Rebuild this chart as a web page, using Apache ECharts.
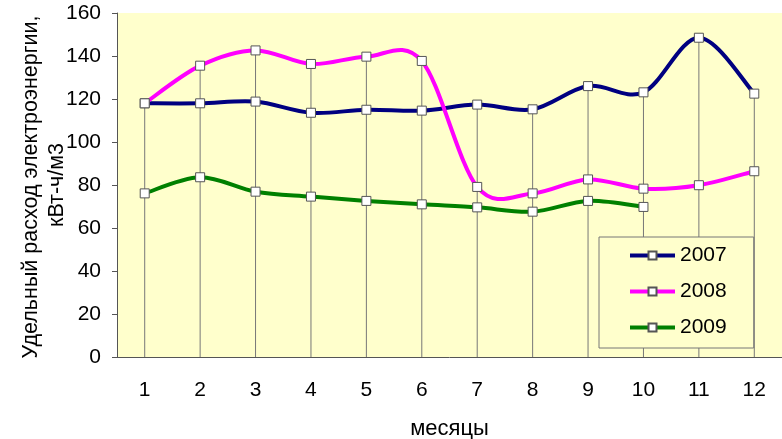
<!DOCTYPE html>
<html>
<head>
<meta charset="utf-8">
<script src="https://cdn.jsdelivr.net/npm/echarts@6/dist/echarts.min.js"></script>
<style>
  html, body { margin: 0; padding: 0; background: #fff; }
  #chart { width: 782px; height: 439px; }
</style>
</head>
<body>
<div id="chart"></div>
<script>
  // месяцы
  var months = ['1', '2', '3', '4', '5', '6', '7', '8', '9', '10', '11', '12'];
  var years = ['2007', '2008', '2009'];
  var colors = ['#000080', '#FF00FF', '#008000'];
  // удельный расход, кВт-ч/м3
  var data2007 = [118, 118, 118.8, 113.6, 115, 114.6, 117.4, 115.2, 126, 123.1, 148.5, 122.5];
  var data2008 = [118, 135.5, 142.6, 136.3, 139.7, 137.7, 79.1, 76.1, 82.6, 78.3, 79.9, 86.4];
  var data2009 = [76.1, 83.6, 76.9, 74.6, 72.6, 71, 69.6, 67.6, 72.6, 69.8, null, null];
  var yTicks = { min: 0, max: 160, interval: 20 };

  // вертикальные линии от верхней точки до оси
  var dropLines = [];
  for (var i = 0; i < months.length; i++) {
    var vals = [data2007[i], data2008[i], data2009[i]].filter(function (v) { return v != null; });
    dropLines.push(Math.max.apply(null, vals));
  }

  var font = '"Liberation Sans", Arial, sans-serif';
  var chart = echarts.init(document.getElementById('chart'));

  // сглаженная линия как в Excel (Catmull-Rom через точки осей)
  function curveRenderer(values, color) {
    return function (params, api) {
      if (params.dataIndex !== 0) return;
      var pts = [];
      for (var k = 0; k < values.length; k++) {
        if (values[k] == null) break;
        pts.push(api.coord([k, values[k]]));
      }
      var children = [];
      for (var j = 0; j < pts.length - 1; j++) {
        var p0 = pts[j - 1] || pts[j];
        var p1 = pts[j];
        var p2 = pts[j + 1];
        var p3 = pts[j + 2] || pts[j + 1];
        children.push({
          type: 'bezierCurve',
          shape: {
            x1: p1[0], y1: p1[1],
            cpx1: p1[0] + (p2[0] - p0[0]) / 6, cpy1: p1[1] + (p2[1] - p0[1]) / 6,
            cpx2: p2[0] - (p3[0] - p1[0]) / 6, cpy2: p2[1] - (p3[1] - p1[1]) / 6,
            x2: p2[0], y2: p2[1]
          },
          style: { stroke: color, lineWidth: 4, fill: null, lineCap: 'round' }
        });
      }
      return { type: 'group', children: children };
    };
  }

  function curveSeries(values, color) {
    return {
      type: 'custom',
      name: 'curve',
      data: values.map(function (v, k) { return [k, v]; }),
      encode: { x: 0, y: 1 },
      renderItem: curveRenderer(values, color),
      silent: true,
      z: 2
    };
  }

  function pointSeries(name, color, data) {
    return {
      name: name,
      type: 'line',
      data: data,
      symbol: 'rect',
      symbolSize: 9,
      showAllSymbol: true,
      lineStyle: { color: color, width: 4, opacity: 0 },
      itemStyle: { color: '#fff', borderColor: '#555', borderWidth: 1 },
      z: 3
    };
  }

  chart.setOption({
    animation: false,
    textStyle: { fontFamily: font },
    grid: {
      left: 117, top: 13, width: 665, height: 344,
      outerBoundsMode: 'none',
      containLabel: false,
      show: true, backgroundColor: '#FFFFCC', borderWidth: 0
    },
    legend: {
      data: years,
      orient: 'vertical',
      left: 599,
      top: 237,
      padding: [8, 27, 10, 29],
      itemGap: 15,
      itemWidth: 45,
      itemHeight: 10,
      backgroundColor: '#FFFFCC',
      borderColor: '#777',
      borderWidth: 1,
      lineStyle: { width: 4, opacity: 1 },
      textStyle: { fontSize: 21, color: '#000', fontFamily: font }
    },
    xAxis: {
      type: 'category',
      data: months,
      boundaryGap: true,
      name: 'месяцы',
      nameLocation: 'middle',
      nameGap: 61,
      nameTextStyle: { fontSize: 22, color: '#000', fontFamily: font },
      axisLine: { lineStyle: { color: '#555', width: 1 } },
      axisTick: { show: false },
      axisLabel: { fontSize: 21, color: '#000', margin: 23, fontFamily: font },
      splitLine: { show: false }
    },
    yAxis: {
      type: 'value',
      min: yTicks.min,
      max: yTicks.max,
      interval: yTicks.interval,
      axisLine: { show: true, lineStyle: { color: '#555', width: 1 } },
      axisTick: { show: true, length: 5, inside: false, lineStyle: { color: '#555' } },
      axisLabel: { fontSize: 21, color: '#000', margin: 16, fontFamily: font },
      splitLine: { show: false }
    },
    graphic: [
      {
        type: 'text', x: 31, y: 187, rotation: Math.PI / 2,
        style: {
          text: 'Удельный расход электроэнергии,', fontSize: 21.5, fill: '#000',
          fontFamily: font, align: 'center', verticalAlign: 'middle'
        }
      },
      {
        type: 'text', x: 57, y: 185, rotation: Math.PI / 2,
        style: {
          text: 'кВт-ч/м3', fontSize: 21.5, fill: '#000',
          fontFamily: font, align: 'center', verticalAlign: 'middle'
        }
      }
    ],
    series: [
      {
        name: 'drop',
        type: 'bar',
        data: dropLines,
        barWidth: 1,
        silent: true,
        itemStyle: { color: '#777' },
        z: 1
      },
      curveSeries(data2007, colors[0]),
      curveSeries(data2008, colors[1]),
      curveSeries(data2009, colors[2]),
      pointSeries(years[0], colors[0], data2007),
      pointSeries(years[1], colors[1], data2008),
      pointSeries(years[2], colors[2], data2009)
    ]
  });
</script>
</body>
</html>
